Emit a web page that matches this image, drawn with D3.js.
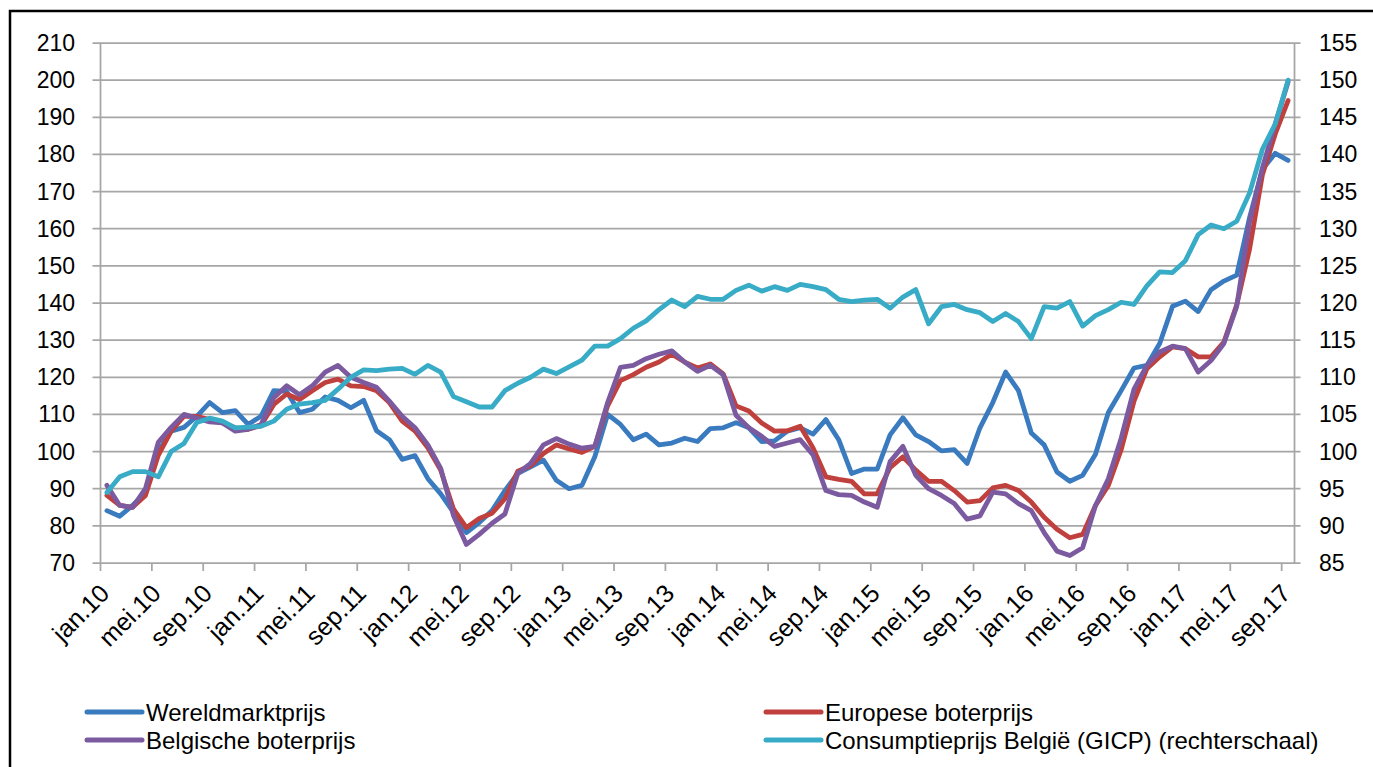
<!DOCTYPE html>
<html>
<head>
<meta charset="utf-8">
<script src="https://cdn.jsdelivr.net/npm/d3@7"></script>
<style>
  body { margin: 0; background: #fff; }
  text { font-family: "Liberation Sans", Arial, sans-serif; fill: #000; }
</style>
</head>
<body>
<script>
// maanden jan.10 .. sep.17
var monthNames = ["jan", "feb", "mrt", "apr", "mei", "jun", "jul", "aug", "sep", "okt", "nov", "dec"];
var years = ["10", "11", "12", "13", "14", "15", "16", "17"];
var nMonths = 93;

// left axis series
var wereldmarkt = [84.1, 82.6, 85.5, 89, 100, 105.5, 106.5, 109.5, 113.2, 110.5, 111, 107.3,
  109.5, 116.4, 116.2, 110.5, 111.4, 114.7, 113.8, 111.8, 113.8, 105.6, 103.2, 97.9,
  98.9, 92.7, 88.6, 83.6, 78.2, 80.9, 84.1, 89.5, 94.1, 95.9, 97.7, 92.3,
  90, 90.9, 98.6, 110, 107.3, 103.2, 104.7, 101.8, 102.3, 103.6, 102.7, 106.2,
  106.4, 107.8, 106.4, 102.7, 102.9, 105.5, 106.4, 104.7, 108.6, 103.2, 94.1, 95.3,
  95.3, 104.5, 109.1, 104.5, 102.7, 100.2, 100.5, 96.8, 106.4, 113.2, 121.4, 116.4,
  105, 101.8, 94.5, 92, 93.6, 99.3, 110.5, 116.4, 122.5, 123.2, 129.1, 139.1,
  140.5, 137.7, 143.6, 145.9, 147.5, 163, 176, 180.3, 178.4];
var europees = [88.2, 85.5, 85, 88.2, 99, 105.5, 109.5, 109.5, 108.6, 107.7, 106.4, 106,
  107, 112.7, 115.5, 114, 116.4, 118.6, 119.5, 117.7, 117.5, 116.4, 113.2, 108.2,
  105.5, 101, 95, 84.5, 79.5, 82, 83.4, 87.3, 94.7, 96.2, 99.5, 101.8,
  100.7, 99.8, 101.4, 112.3, 119.1, 120.7, 122.7, 124.1, 126.2, 124.1, 122.5, 123.6,
  120.9, 112.3, 110.9, 107.7, 105.5, 105.6, 106.8, 101, 93.2, 92.5, 92, 88.6,
  88.6, 95.7, 98.6, 95, 92, 92, 89.5, 86.4, 86.8, 90.2, 90.9, 89.5,
  86.4, 82.3, 79.1, 76.8, 77.7, 85.5, 90.9, 100.5, 113.6, 122.3, 125.5, 128.2,
  127.7, 125.5, 125.5, 129.5, 139.5, 154.5, 174.5, 185.5, 194.5];
var belgisch = [90.9, 85.5, 85, 90, 102.5, 106.5, 110, 109, 108, 107.7, 105.5, 106,
  107.3, 114.5, 117.7, 115.3, 117.7, 121.4, 123.2, 120, 118.6, 117.3, 113.6, 109.5,
  106.4, 101.8, 95.5, 82.7, 75, 77.7, 80.7, 83.2, 94.1, 96.8, 101.8, 103.5,
  102, 100.9, 101.4, 113.2, 122.7, 123.2, 125, 126.2, 127.1, 124.1, 121.6, 123.2,
  120.7, 109.8, 106.4, 104.1, 101.4, 102.3, 103.2, 99.1, 89.5, 88.4, 88.2, 86.4,
  85, 97.3, 101.4, 93.6, 90, 88.2, 86, 81.8, 82.7, 89.1, 88.6, 86,
  84.1, 78.2, 73.2, 72, 74.1, 85.5, 92.7, 103.6, 116.8, 123.2, 126.8, 128.4,
  127.7, 121.4, 124.5, 129.1, 139.1, 161.8, 176.4, 188.2, 199.5];
// right axis series
var gicp = [94.5, 96.6, 97.3, 97.3, 96.6, 100, 101.1, 103.9, 104.5, 104.1, 103.2, 103.3,
  103.4, 104.1, 105.7, 106.4, 106.6, 106.9, 108.4, 110, 111, 110.9, 111.1, 111.2,
  110.4, 111.6, 110.7, 107.4, 106.7, 106, 106, 108.2, 109.2, 110, 111.1, 110.5,
  111.4, 112.3, 114.2, 114.2, 115.2, 116.6, 117.6, 119.1, 120.4, 119.5, 120.9, 120.5,
  120.5, 121.7, 122.4, 121.6, 122.2, 121.7, 122.5, 122.2, 121.8, 120.5, 120.2, 120.4,
  120.5, 119.3, 120.8, 121.8, 117.2, 119.5, 119.8, 119.1, 118.7, 117.5, 118.6, 117.5,
  115.2, 119.5, 119.3, 120.2, 116.9, 118.3, 119.1, 120.1, 119.8, 122.3, 124.2, 124.1,
  125.7, 129.2, 130.5, 130, 131, 134.8, 140.7, 144.1, 150];

var leftTicks = [70, 80, 90, 100, 110, 120, 130, 140, 150, 160, 170, 180, 190, 200, 210];
var rightTicks = [85, 90, 95, 100, 105, 110, 115, 120, 125, 130, 135, 140, 145, 150, 155];

var seriesNames = ["Wereldmarktprijs", "Europese boterprijs", "Belgische boterprijs",
  "Consumptieprijs België (GICP) (rechterschaal)"];
var seriesColors = ["#3a7bc0", "#c0403d", "#7b5a9f", "#38abc6"];

var categories = [];
for (var i = 0; i < nMonths; i++) {
  categories.push(monthNames[i % 12] + "." + years[Math.floor(i / 12)]);
}

var width = 1373, height = 767;
var x0 = 100.5, x1 = 1294.5, y0 = 43, y1 = 563;

var svg = d3.select("body").append("svg")
  .attr("width", width)
  .attr("height", height);

// chart border
svg.append("rect")
  .attr("x", 10).attr("y", 11)
  .attr("width", width + 20).attr("height", height + 20)
  .attr("fill", "none").attr("stroke", "#000").attr("stroke-width", 2.5);

var x = d3.scaleBand().domain(categories).range([x0, x1]);
var yL = d3.scaleLinear().domain([70, 210]).range([y1, y0]);
var yR = d3.scaleLinear().domain([85, 155]).range([y1, y0]);

// gridlines
svg.append("g").selectAll("line")
  .data(leftTicks)
  .enter().append("line")
  .attr("x1", x0 - 8).attr("x2", x1 + 6)
  .attr("y1", function (d) { return yL(d); })
  .attr("y2", function (d) { return yL(d); })
  .attr("stroke", "#a6a6a6").attr("stroke-width", 1.75);

// vertical axis lines
svg.append("line").attr("x1", x0).attr("x2", x0).attr("y1", y0).attr("y2", y1)
  .attr("stroke", "#a6a6a6").attr("stroke-width", 1.75);
svg.append("line").attr("x1", x1).attr("x2", x1).attr("y1", y0).attr("y2", y1)
  .attr("stroke", "#a6a6a6").attr("stroke-width", 1.75);

// x tick marks every 4 months
var tickIdx = d3.range(0, nMonths, 4);
svg.append("g").selectAll("line")
  .data(tickIdx)
  .enter().append("line")
  .attr("x1", function (d) { return x(categories[d]); })
  .attr("x2", function (d) { return x(categories[d]); })
  .attr("y1", y1).attr("y2", y1 + 8)
  .attr("stroke", "#a6a6a6").attr("stroke-width", 1.75);

// y labels
svg.append("g").selectAll("text")
  .data(leftTicks)
  .enter().append("text")
  .attr("x", 75)
  .attr("y", function (d) { return yL(d) + 8; })
  .attr("text-anchor", "end")
  .style("font-size", "23px")
  .text(function (d) { return d; });

svg.append("g").selectAll("text")
  .data(rightTicks)
  .enter().append("text")
  .attr("x", 1319)
  .attr("y", function (d) { return yR(d) + 8; })
  .attr("text-anchor", "start")
  .style("font-size", "23px")
  .text(function (d) { return d; });

// x labels
svg.append("g").selectAll("text")
  .data(tickIdx)
  .enter().append("text")
  .attr("text-anchor", "end")
  .style("font-size", "25px")
  .attr("transform", function (d) {
    var cx = x(categories[d]) + x.bandwidth() / 2;
    return "translate(" + (cx + 4) + "," + (y1 + 32) + ")rotate(-45)";
  })
  .text(function (d) { return categories[d]; });

// lines
function lineFor(scale) {
  return d3.line()
    .x(function (d, i) { return x(categories[i]) + x.bandwidth() / 2; })
    .y(function (d) { return scale(d); });
}
var allSeries = [
  { values: wereldmarkt, scale: yL },
  { values: europees, scale: yL },
  { values: belgisch, scale: yL },
  { values: gicp, scale: yR }
];
allSeries.forEach(function (s, k) {
  svg.append("path")
    .datum(s.values)
    .attr("d", lineFor(s.scale))
    .attr("fill", "none")
    .attr("stroke", seriesColors[k])
    .attr("stroke-width", 4.8)
    .attr("stroke-linejoin", "round")
    .attr("stroke-linecap", "round");
});

// legend
var legendPos = [[87, 712], [766, 712], [87, 740], [766, 740]];
var legend = svg.append("g").selectAll("g")
  .data(seriesNames)
  .enter().append("g")
  .attr("transform", function (d, i) { return "translate(" + legendPos[i][0] + "," + legendPos[i][1] + ")"; });
legend.append("line")
  .attr("x1", 0).attr("x2", 55).attr("y1", 0).attr("y2", 0)
  .attr("stroke", function (d, i) { return seriesColors[i]; })
  .attr("stroke-width", 5)
  .attr("stroke-linecap", "round");
legend.append("text")
  .attr("x", 59).attr("y", 9)
  .style("font-size", "24px")
  .text(function (d) { return d; });
</script>
</body>
</html>
